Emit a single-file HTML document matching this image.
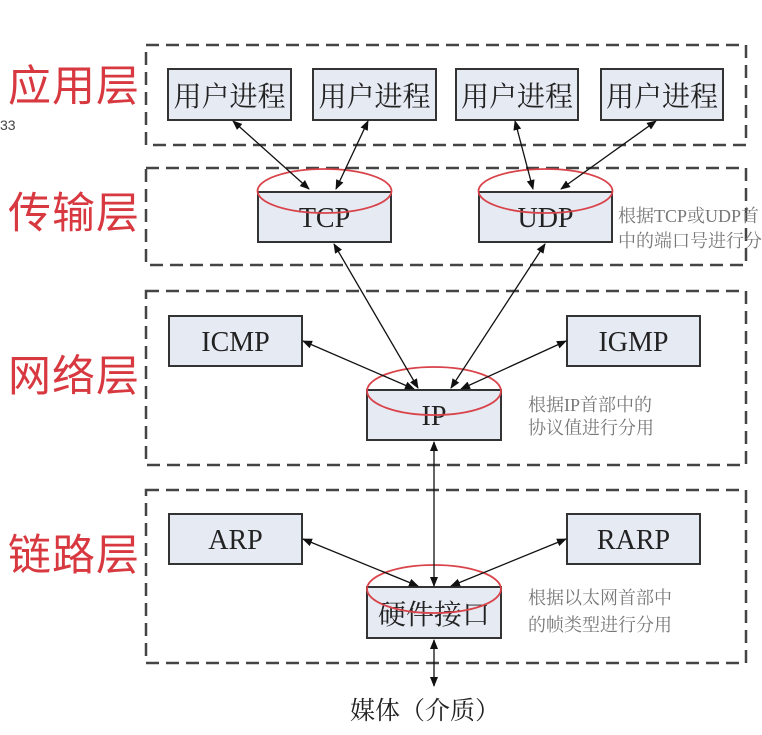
<!DOCTYPE html>
<html><head><meta charset="utf-8"><style>
html,body{margin:0;padding:0;background:#fff;width:762px;height:735px;overflow:hidden}
svg text{font-family:"Liberation Serif","Noto Serif CJK SC",serif}
.red{font-family:"Liberation Sans","Noto Sans CJK SC",sans-serif;fill:#d8383f;font-size:43px;letter-spacing:1px}
.g{fill:#777;font-size:18px}
</style></head><body>
<svg width="762" height="735" xmlns="http://www.w3.org/2000/svg">
<defs>
<marker id="a" viewBox="0 0 10 10" refX="9" refY="5" markerWidth="10" markerHeight="10" orient="auto-start-reverse" markerUnits="userSpaceOnUse"><path d="M0,1 L10,5 L0,9 z" fill="#111"/></marker>
</defs>
<g fill="none" stroke="#444" stroke-width="2.5" stroke-dasharray="13,7">
<rect x="146" y="45" width="600" height="100"/>
<rect x="146" y="168" width="600" height="97"/>
<rect x="146" y="291" width="600" height="174"/>
<rect x="146" y="490" width="600" height="173"/>
</g>
<text class="red" x="8" y="101">应用层</text>
<text class="red" x="8" y="228">传输层</text>
<text class="red" x="8" y="391">网络层</text>
<text class="red" x="8" y="570">链路层</text>
<text x="0" y="130" font-size="14" fill="#444" style="font-family:'Liberation Sans',sans-serif">33</text>
<g fill="#e6eaf3" stroke="#333" stroke-width="2">
<rect x="168" y="69" width="123" height="51"/>
<rect x="313" y="69" width="123" height="51"/>
<rect x="456" y="69" width="122" height="51"/>
<rect x="601" y="69" width="122" height="51"/>
<rect x="258" y="192" width="133" height="50"/>
<rect x="479" y="192" width="133" height="50"/>
<rect x="169" y="316" width="133" height="50"/>
<rect x="567" y="316" width="133" height="50"/>
<rect x="367" y="390" width="134" height="50"/>
<rect x="169" y="514" width="133" height="50"/>
<rect x="567" y="514" width="133" height="50"/>
<rect x="367" y="587" width="134" height="51"/>
</g>
<g font-size="28" fill="#222" text-anchor="middle">
<text x="229.5" y="106">用户进程</text>
<text x="374.5" y="106">用户进程</text>
<text x="517" y="106">用户进程</text>
<text x="662" y="106">用户进程</text>
<text x="324.5" y="227">TCP</text>
<text x="545.5" y="227">UDP</text>
<text x="235.5" y="351">ICMP</text>
<text x="633.5" y="351">IGMP</text>
<text x="434" y="425">IP</text>
<text x="235.5" y="549">ARP</text>
<text x="633.5" y="549">RARP</text>
<text x="434" y="624">硬件接口</text>
<text x="425" y="719" font-size="25">媒体（介质）</text>
</g>
<g fill="none" stroke="#d9434a" stroke-width="1.8">
<ellipse cx="324.5" cy="191" rx="67" ry="22"/>
<ellipse cx="545.5" cy="191" rx="67" ry="22"/>
<ellipse cx="434" cy="391" rx="67" ry="24"/>
<ellipse cx="434" cy="589" rx="67" ry="24"/>
</g>
<g stroke="#111" stroke-width="1.3" marker-start="url(#a)" marker-end="url(#a)">
<line x1="233" y1="121" x2="309" y2="189"/>
<line x1="368" y1="121" x2="336" y2="189"/>
<line x1="515" y1="121" x2="533" y2="189"/>
<line x1="656" y1="121" x2="561" y2="189"/>
<line x1="334" y1="244" x2="418" y2="388"/>
<line x1="545" y1="244" x2="451" y2="388"/>
<line x1="303" y1="341" x2="414" y2="389"/>
<line x1="566" y1="341" x2="461" y2="389"/>
<line x1="434" y1="442" x2="434" y2="586"/>
<line x1="303" y1="539" x2="418" y2="586"/>
<line x1="566" y1="539" x2="451" y2="586"/>
<line x1="434" y1="640" x2="434" y2="686"/>
</g>
<g class="g">
<text x="618" y="222">根据TCP或UDP首</text>
<text x="618" y="247">中的端口号进行分</text>
<text x="528" y="411">根据IP首部中的</text>
<text x="528" y="434">协议值进行分用</text>
<text x="528" y="604">根据以太网首部中</text>
<text x="528" y="631">的帧类型进行分用</text>
</g>
</svg>
</body></html>
